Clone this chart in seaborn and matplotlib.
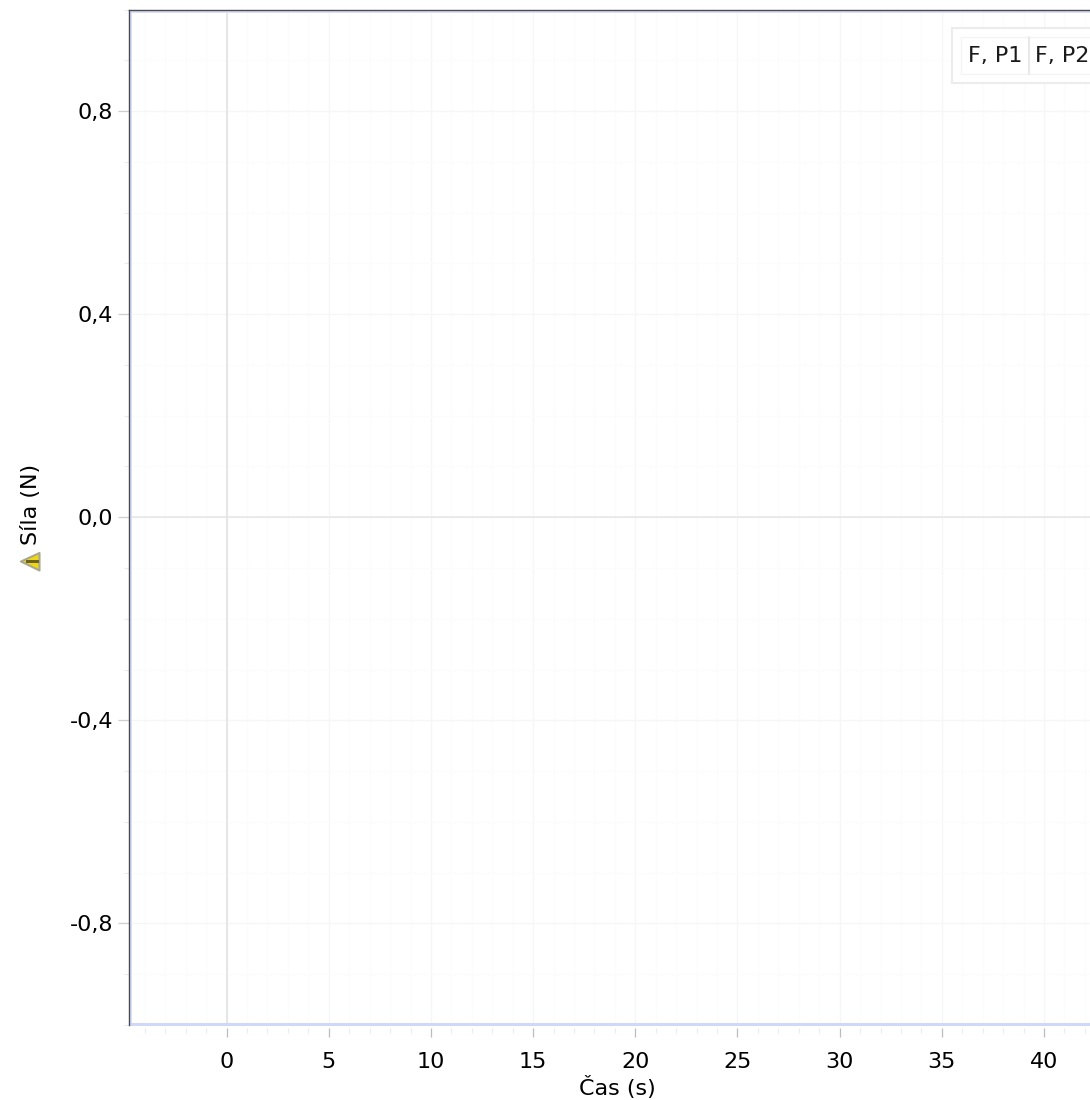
import numpy as np
import pandas as pd
import matplotlib
matplotlib.use("Agg")
import matplotlib.pyplot as plt
from matplotlib.patches import Rectangle, Polygon
import seaborn as sns

series_names = ["F, P1", "F, P2"]
time_values = []
force_values = []
x_major = [0, 5, 10, 15, 20, 25, 30, 35, 40]
y_major = [-0.8, -0.4, 0.0, 0.4, 0.8]
y_labels = ["-0,8", "-0,4", "0,0", "0,4", "0,8"]
x_label = "Čas (s)"
y_label = "Síla (N)"

W, H = 1090, 1100
sns.set_theme(style="white")
plt.rcParams['font.family'] = ['DejaVu Sans']
fig = plt.figure(figsize=(W / 100, H / 100), dpi=100, facecolor="white")
L, R, T, B = 128.5, 1090, 9.5, 1025
ax = fig.add_axes([L / W, 1 - B / H, (R - L) / W, (B - T) / H])

data = pd.DataFrame({"t": pd.Series(time_values, dtype=float),
                     "f": pd.Series(force_values, dtype=float)})
sns.lineplot(data=data, x="t", y="f", ax=ax)

ax.set_xlim(-4.8, 42.25)
ax.set_ylim(-1.0, 1.0)
ax.set_xticks(x_major)
ax.set_xticklabels([str(v) for v in x_major])
ax.set_yticks(y_major)
ax.set_yticklabels(y_labels)
ax.set_xticks(np.arange(-4, 43, 1), minor=True)
ax.set_yticks(np.arange(-10, 11, 1) / 10, minor=True)
ax.set_xlabel("")
ax.set_ylabel("")

ax.grid(False)
ax.set_axisbelow(True)
ax.grid(which="minor", color="#fcfcfc", lw=0.8)
ax.grid(which="major", color="#f6f6f6", lw=0.9)
ax.axvline(0, color="#e6e6e6", lw=1.4, zorder=1)
ax.axhline(0, color="#e6e6e6", lw=1.1, zorder=1)

# bottom ticks stand a few pixels clear of the frame
ax.spines["bottom"].set_position(("outward", 2.4))
ax.spines["bottom"].set_visible(False)
ax.spines["right"].set_visible(False)

ax.tick_params(axis="x", which="major", bottom=True, length=6.5, width=0.9, color="#bcbcbc",
               labelsize=16, labelcolor="black", pad=10.2, direction="out")
ax.tick_params(axis="y", which="major", left=True, length=8, width=0.9, color="#cfcfcf",
               labelsize=16, labelcolor="black", pad=3, direction="out")
ax.tick_params(axis="both", which="minor", bottom=True, left=True, length=3.5, width=0.8, color="#ececec")

for s in ["left", "top"]:
    ax.spines[s].set_color("#4a4a4a")
    ax.spines[s].set_linewidth(1.0)
    ax.spines[s].set_zorder(3)

# pale blue inner edge of the plot frame
ax.add_patch(Rectangle((0.0005, 0), 0.0032, 1, transform=ax.transAxes, color="#d8dfff", lw=0, zorder=1.5))
ax.add_patch(Rectangle((0, 0.9968), 1, 0.0027, transform=ax.transAxes, color="#d8dfff", lw=0, zorder=1.5))
ax.add_patch(Rectangle((0, -0.0012), 1, 0.0036, transform=ax.transAxes, color="#d0d8fa", lw=0,
                       zorder=2.5, clip_on=False))

fig.text(617 / W, 1 - 1088 / H, x_label, ha="center", va="center", fontsize=16, color="black")
fig.text(30.5 / W, 1 - 504 / H, y_label, ha="center", va="center", rotation=90, fontsize=16, color="black")

# warning icon beside the y label
px = lambda x, y: (x / W, 1 - y / H)
fig.add_artist(Polygon([px(21, 561.5), px(39.5, 553), px(39.5, 570.5)], closed=True, transform=fig.transFigure,
                       facecolor="#f0d810", edgecolor="#a8a890", lw=1.5, joinstyle="round"))
fig.add_artist(Polygon([px(26, 560.3), px(38.5, 560.3), px(38.5, 563.3), px(26, 563.3)], closed=True,
                       transform=fig.transFigure, facecolor="#6a6228", edgecolor="none"))

# legend (runs past the right edge of the image)
def frect(x0, y0, x1, y1, **kw):
    fig.add_artist(Rectangle((x0 / W, 1 - y1 / H), (x1 - x0) / W, (y1 - y0) / H,
                             transform=fig.transFigure, **kw))
frect(952, 28, 1100, 83, facecolor="white", edgecolor="#ececec", lw=1.5)
frect(961, 36.5, 1029, 74, facecolor="white", edgecolor="#f4f4f4", lw=1)
frect(1029, 36.5, 1100, 74, facecolor="white", edgecolor="#f4f4f4", lw=1)
fig.add_artist(plt.Line2D([1029 / W, 1029 / W], [1 - 36.5 / H, 1 - 74 / H], color="#e6e6e6", lw=1.2))
fig.text(995.5 / W, 1 - 56 / H, series_names[0], ha="center", va="center", fontsize=16, color="#1a1a1a")
fig.text(1035 / W, 1 - 56 / H, series_names[1], ha="left", va="center", fontsize=16, color="#1a1a1a")

fig.savefig("out.png", dpi=100)
